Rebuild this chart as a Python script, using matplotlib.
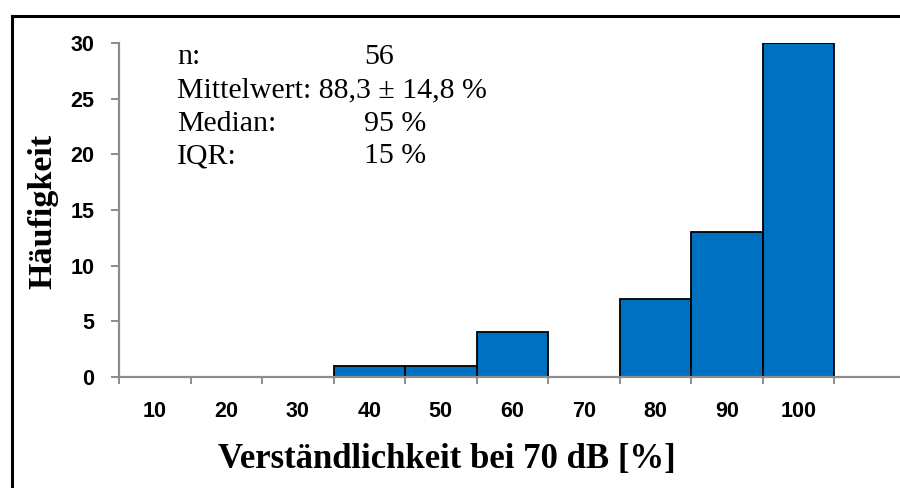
import matplotlib
matplotlib.use("Agg")
import matplotlib.pyplot as plt
from matplotlib.lines import Line2D

# Data
categories = ["10", "20", "30", "40", "50", "60", "70", "80", "90", "100"]
counts = [0, 0, 0, 1, 1, 4, 0, 7, 13, 30]
y_ticks = [0, 5, 10, 15, 20, 25, 30]
stat_labels = ["n:", "Mittelwert:", "Median:", "IQR:"]
stat_values = ["56", "88,3 \u00b1 14,8 %", "95 %", "15 %"]

W, H = 900, 488
fig = plt.figure(figsize=(W / 100, H / 100), dpi=100)

def fx(px):
    return px / W

def fy(py):
    return 1 - py / H

ax = fig.add_axes([fx(119), fy(377), fx(900 - 119), (377 - 43) / H])

x = list(range(len(categories)))
ax.bar(x, counts, width=1.0, color="#0070C0", edgecolor="black", linewidth=1.3, zorder=3)

ax.set_xlim(-0.5, -0.5 + (900 - 119) / 71.5)
ax.set_ylim(0, 30)

gray = "#8c8c8c"
for s in ["top", "right"]:
    ax.spines[s].set_visible(False)
for s in ["left", "bottom"]:
    ax.spines[s].set_color(gray)
    ax.spines[s].set_linewidth(1.6)
ax.spines["bottom"].set_zorder(4)

# y ticks
ax.set_yticks(y_ticks)
ax.set_yticklabels([str(v) for v in y_ticks], fontfamily="Liberation Sans",
                   fontweight="bold", fontsize=15.5)
ax.tick_params(axis="y", direction="out", length=5.8, width=1.4, color=gray, pad=12)

# x ticks: major at boundaries, minor at centers (labels)
bounds = [i - 0.5 for i in range(len(categories) + 1)]
ax.set_xticks(bounds)
ax.set_xticklabels([])
ax.tick_params(axis="x", which="major", direction="out", length=5.2, width=1.4, color=gray)
ax.set_xticks(x, minor=True)
ax.set_xticklabels(categories, minor=True, fontfamily="Liberation Sans",
                   fontweight="bold", fontsize=15.5)
ax.tick_params(axis="x", which="minor", length=0, pad=17)

# axis labels
fig.text(fx(447), fy(468), "Verst\u00e4ndlichkeit bei 70 dB [%]", ha="center",
         va="baseline", fontfamily="Liberation Serif", fontweight="bold", fontsize=25)
fig.text(fx(43), fy(211.7), "H\u00e4ufigkeit", ha="center", va="center", rotation=90,
         fontfamily="Liberation Serif", fontweight="bold", fontsize=24.5)

# stats text
baselines = [64, 97.7, 130.7, 163.3]
for lab, val, b in zip(stat_labels, stat_values, baselines):
    if lab == "Mittelwert:":
        fig.text(fx(177), fy(b), lab + " " + val, ha="left", va="baseline",
                 fontfamily="Liberation Serif", fontsize=21.5)
    else:
        fig.text(fx(177), fy(b), lab, ha="left", va="baseline",
                 fontfamily="Liberation Serif", fontsize=21.5)
        fig.text(fx(364), fy(b), val, ha="left", va="baseline",
                 fontfamily="Liberation Serif", fontsize=21.5)

# outer frame
fig.add_artist(Line2D([fx(11.5), fx(11.5)], [fy(15.5), fy(500)], color="black",
                      linewidth=2.2, transform=fig.transFigure, solid_capstyle="projecting"))
fig.add_artist(Line2D([fx(11.5), fx(910)], [fy(15.5), fy(15.5)], color="black",
                      linewidth=2.2, transform=fig.transFigure, solid_capstyle="projecting"))

fig.savefig("out.png", dpi=100)
